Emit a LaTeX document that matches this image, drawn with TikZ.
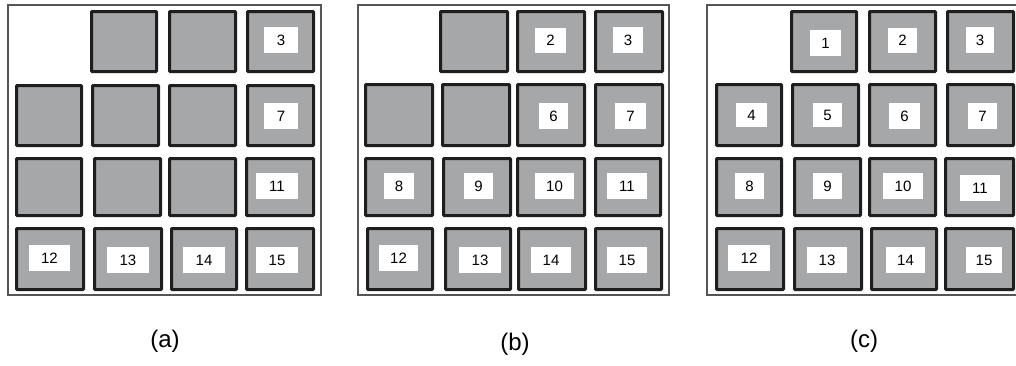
\documentclass[tikz,border=0pt]{standalone}
\usepackage{fontspec}
\setmainfont{Liberation Sans}
\definecolor{tilegray}{HTML}{A6A7A9}
\definecolor{tileedge}{HTML}{1E1E1E}
\definecolor{framegray}{HTML}{555555}
\tikzset{
  tile/.style={draw=tileedge, fill=tilegray, line width=3pt, inner sep=0pt, rounded corners=0.8pt},
  tag/.style={fill=white, inner sep=0pt, font=\fontsize{15}{17}\selectfont},
  frame/.style={draw=framegray, line width=1.1pt},
  caption/.style={font=\fontsize{24}{28}\selectfont, inner sep=0pt}
}
% a tile given by its outer corners
\newcommand{\tileat}[5]{%
  \node[tile, minimum width={(#4-#2-3)*1pt}, minimum height={(#5-#3-3)*1pt}]
    (#1) at ({(#2+#4)/2},{(#3+#5)/2}) {};}
% a white number plate given by its corners
\newcommand{\plate}[6]{%
  \node[tag, minimum width={(#4-#2)*1pt}, minimum height={(#5-#3)*1pt}]
    (#1) at ({(#2+#4)/2},{(#3+#5)/2}) {#6};}
\begin{document}
\begin{tikzpicture}[x=1pt,y=-1pt]
\useasboundingbox (0,0) rectangle (1016,365);

% ---------- panel (a) ----------
\draw[frame] (8,5) rectangle (321,295);
\tileat{a1}{90}{10}{158}{73}
\tileat{a2}{168}{10}{237}{73}
\tileat{a3}{246}{10}{315}{73}
\tileat{a4}{15}{84}{83}{147}
\tileat{a5}{91}{84}{160}{147}
\tileat{a6}{168}{84}{237}{147}
\tileat{a7}{246}{84}{315}{147}
\tileat{a8}{15}{157}{83}{217}
\tileat{a9}{93}{157}{162}{217}
\tileat{a10}{168}{157}{237}{217}
\tileat{a11}{245}{157}{315}{217}
\tileat{a12}{15}{227}{85}{291}
\tileat{a13}{93}{227}{163}{291}
\tileat{a14}{170}{227}{238}{291}
\tileat{a15}{245}{227}{315}{291}
\plate{pa3}{264}{27}{298}{53}{3}
\plate{pa7}{264}{103}{298}{129}{7}
\plate{pa11}{256}{173}{298}{199}{11}
\plate{pa12}{29}{245}{70}{271}{12}
\plate{pa13}{107}{247}{149}{273}{13}
\plate{pa14}{183}{247}{225}{273}{14}
\plate{pa15}{256}{247}{298}{273}{15}

% ---------- panel (b) ----------
\draw[frame] (358,5) rectangle (669,295);
\tileat{b1}{439}{10}{509}{73}
\tileat{b2}{516}{10}{586}{73}
\tileat{b3}{594}{10}{664}{73}
\tileat{b4}{364}{83}{434}{147}
\tileat{b5}{441}{83}{511}{147}
\tileat{b6}{516}{83}{586}{147}
\tileat{b7}{594}{83}{664}{147}
\tileat{b8}{364}{157}{434}{217}
\tileat{b9}{442}{157}{512}{217}
\tileat{b10}{516}{157}{586}{217}
\tileat{b11}{594}{157}{662}{217}
\tileat{b12}{366}{227}{434}{291}
\tileat{b13}{444}{227}{512}{291}
\tileat{b14}{517}{227}{587}{291}
\tileat{b15}{594}{227}{663}{291}
\plate{pb2}{535}{28}{566}{53}{2}
\plate{pb3}{613}{27}{643}{53}{3}
\plate{pb6}{539}{103}{568}{129}{6}
\plate{pb7}{615}{103}{646}{129}{7}
\plate{pb8}{384}{173}{414}{199}{8}
\plate{pb9}{464}{173}{493}{199}{9}
\plate{pb10}{535}{173}{574}{199}{10}
\plate{pb11}{607}{173}{647}{199}{11}
\plate{pb12}{379}{245}{418}{271}{12}
\plate{pb13}{459}{247}{501}{273}{13}
\plate{pb14}{531}{247}{571}{273}{14}
\plate{pb15}{607}{247}{647}{273}{15}

% ---------- panel (c) ----------
\draw[frame] (1016,5) -- (707,5) -- (707,295) -- (1016,295);
\tileat{c1}{790}{10}{858}{73}
\tileat{c2}{868}{10}{937}{73}
\tileat{c3}{946}{10}{1015}{73}
\tileat{c4}{715}{83}{783}{147}
\tileat{c5}{791}{83}{860}{147}
\tileat{c6}{868}{83}{937}{147}
\tileat{c7}{946}{83}{1015}{147}
\tileat{c8}{715}{157}{783}{217}
\tileat{c9}{793}{157}{862}{217}
\tileat{c10}{868}{157}{937}{217}
\tileat{c11}{944}{157}{1015}{217}
\tileat{c12}{715}{227}{785}{291}
\tileat{c13}{793}{227}{863}{291}
\tileat{c14}{870}{227}{938}{291}
\tileat{c15}{944}{227}{1015}{291}
\plate{pc1}{810}{30}{841}{56}{1}
\plate{pc2}{888}{28}{917}{53}{2}
\plate{pc3}{966}{27}{994}{53}{3}
\plate{pc4}{736}{103}{767}{127}{4}
\plate{pc5}{813}{103}{842}{127}{5}
\plate{pc6}{889}{103}{920}{129}{6}
\plate{pc7}{968}{103}{997}{129}{7}
\plate{pc8}{735}{173}{764}{199}{8}
\plate{pc9}{813}{173}{842}{199}{9}
\plate{pc10}{883}{173}{923}{199}{10}
\plate{pc11}{960}{175}{1000}{201}{11}
\plate{pc12}{728}{245}{770}{271}{12}
\plate{pc13}{807}{247}{847}{273}{13}
\plate{pc14}{886}{247}{925}{273}{14}
\plate{pc15}{966}{247}{1002}{273}{15}

% ---------- captions ----------
\node[caption] (capa) at (165,341) {(a)};
\node[caption] (capb) at (515,344) {(b)};
\node[caption] (capc) at (864,341) {(c)};
\end{tikzpicture}
\end{document}
